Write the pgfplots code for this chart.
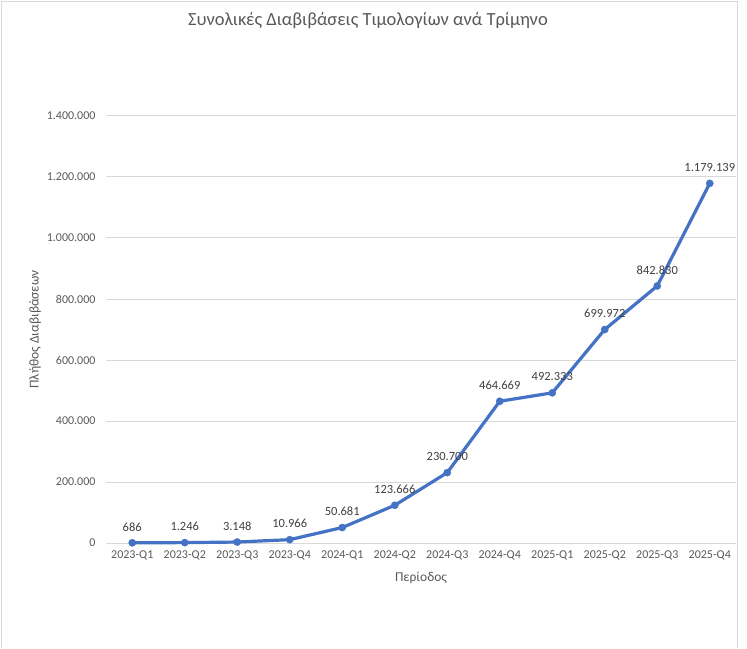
\documentclass[border=0pt]{standalone}
\usepackage{pgfplots}
\pgfplotsset{compat=1.18}
\usepackage{pgfplotstable}
\usepackage{fontspec}
\setmainfont{Carlito}

\definecolor{linec}{HTML}{4472C4}
\definecolor{gridc}{HTML}{D9D9D9}
\definecolor{tickc}{HTML}{595959}
\definecolor{labc}{HTML}{404040}

\pgfplotstableread{
x y lab
0 686 686
1 1246 1.246
2 3148 3.148
3 10966 10.966
4 50681 50.681
5 123666 123.666
6 230700 230.700
7 464669 464.669
8 492333 492.333
9 699972 699.972
10 842830 842.830
11 1179139 1.179.139
}\datatable

\begin{document}
\begin{tikzpicture}[x=1pt,y=1pt]
\path (0,0) rectangle (747,648);
\draw[gridc, line width=1pt] (1,0) -- (1,646) -- (737,646) -- (737,0);
\begin{axis}[
  at={(106pt,105pt)}, anchor=south west,
  scale only axis, width=630pt, height=427pt,
  xmin=-0.5, xmax=11.5,
  ymin=0, ymax=1400000,
  xtick=data,
  xticklabels={2023-Q1,2023-Q2,2023-Q3,2023-Q4,2024-Q1,2024-Q2,2024-Q3,2024-Q4,2025-Q1,2025-Q2,2025-Q3,2025-Q4},
  ytick={0,200000,400000,600000,800000,1000000,1200000,1400000},
  scaled y ticks=false,
  yticklabel={\pgfmathprintnumber[fixed,precision=0,1000 sep={.}]{\tick}},
  /pgf/number format/assume math mode=true,
  ymajorgrids, major grid style={gridc, line width=1pt},
  axis line style={draw=none},
  major tick length=0pt,
  ticklabel style={font=\fontsize{12}{14}\selectfont, text=tickc},
  yticklabel style={xshift=-7pt},
  xticklabel style={yshift=-4pt},
  title={Συνολικές Διαβιβάσεις Τιμολογίων ανά Τρίμηνο},
  title style={font=\fontsize{18.5}{21}\selectfont, text=tickc, at={(axis description cs:0.4159,1.2085)}, anchor=center},
  xlabel={Περίοδος},
  xlabel style={font=\fontsize{13.5}{15}\selectfont, text=tickc, at={(axis description cs:0.5,-0.082)}, anchor=center},
  ylabel={Πλήθος Διαβιβάσεων},
  ylabel style={font=\fontsize{13.5}{15}\selectfont, text=tickc, at={(axis description cs:-0.1127,0.5)}, anchor=center, rotate=0},
  clip=false,
]
\addplot[linec, line width=3.2pt, mark=*, mark size=3.6pt, mark options={solid, fill=linec, draw=linec, line width=0.4pt},
  point meta=explicit symbolic,
  nodes near coords,
  every node near coord/.append style={font=\fontsize{12.5}{14}\selectfont, text=labc, anchor=center, yshift=16pt},
] table[x=x, y=y, meta=lab] {\datatable};
\end{axis}
\end{tikzpicture}
\end{document}
